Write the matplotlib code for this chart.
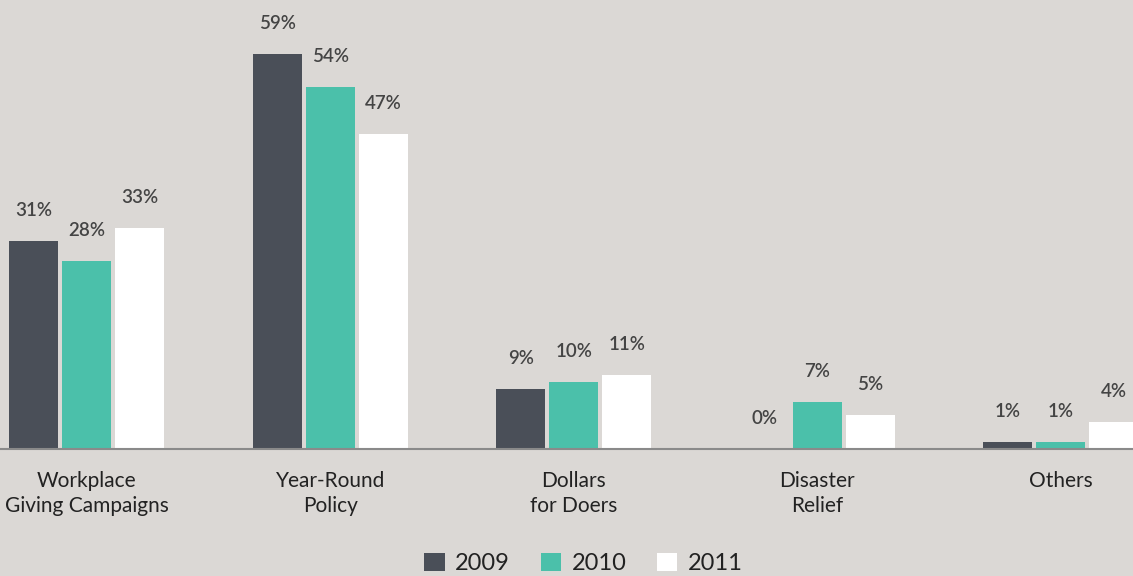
import matplotlib
matplotlib.use("Agg")
import matplotlib.pyplot as plt
from matplotlib.patches import Patch
import numpy as np

categories = ["Workplace\nGiving Campaigns", "Year-Round\nPolicy", "Dollars\nfor Doers",
              "Disaster\nRelief", "Others"]
years = ["2009", "2010", "2011"]
v2009 = [31, 59, 9, 0, 1]
v2010 = [28, 54, 10, 7, 1]
v2011 = [33, 47, 11, 5, 4]

BG = "#dbd8d5"
COLORS = ["#4a4f58", "#4bc0aa", "#ffffff"]
plt.rcParams["font.family"] = ["Lato", "DejaVu Sans"]

fig = plt.figure(figsize=(11.33, 5.76), dpi=100, facecolor=BG)
ax = fig.add_axes([0, 0.2205, 1, 0.7795], facecolor=BG)

x = np.arange(len(categories))
w, step = 0.201, 0.2177
for k, (vals, c) in enumerate(zip([v2009, v2010, v2011], COLORS)):
    xs = x + (k - 1) * step
    ax.bar(xs, vals, width=w, color=c, zorder=2)
    for xi, v in zip(xs, vals):
        ax.annotate(f"{v}%", (xi, v), xytext=(0, 22), textcoords="offset points",
                    ha="center", va="center", fontsize=13.5, color="#444444",
                    fontweight="semibold")

ax.set_xlim(-0.357, 4.296)
ax.set_ylim(0, 67.0)
for s in ["top", "right", "left"]:
    ax.spines[s].set_visible(False)
ax.spines["bottom"].set_color("#8a8a8a")
ax.spines["bottom"].set_linewidth(1.5)
ax.spines["bottom"].set_zorder(3)
ax.set_yticks([])
ax.set_xticks(x)
ax.set_xticklabels(categories, fontsize=15, color="#222222", linespacing=1.3)
ax.tick_params(axis="x", length=0, pad=16)

# legend sits low, right on the bottom edge
handles = [Patch(facecolor=c, label=y) for c, y in zip(COLORS, years)]
fig.legend(handles=handles, loc="center", bbox_to_anchor=(0.515, 0.022), ncol=3,
           frameon=False, fontsize=17, handlelength=0.85, handleheight=0.85,
           columnspacing=1.3, handletextpad=0.45, labelcolor="#222222")

fig.savefig("out.png", dpi=100, facecolor=BG)
